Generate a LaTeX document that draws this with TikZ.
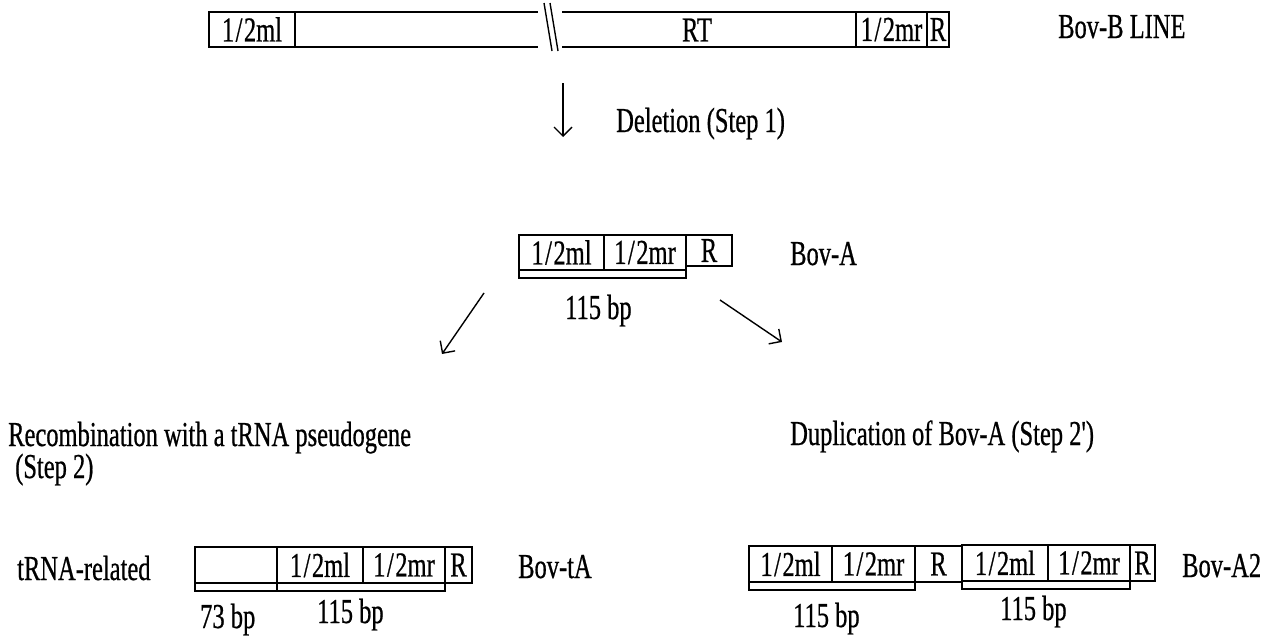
\documentclass[tikz,border=0pt]{standalone}
\usepackage{fontspec}
\newfontfamily\figfont{Liberation Serif}[FakeStretch=0.70,FakeBold=0.6]
\newcommand\halfm{1\kern1.5pt/\kern1.5pt2}
\usetikzlibrary{arrows.meta}
\begin{document}
\begin{tikzpicture}[x=1pt,y=-1pt,
  every node/.style={font=\figfont\fontsize{35}{40}\selectfont},
  seg/.style={draw, line width=1.4pt, inner sep=0pt, outer sep=0pt, anchor=north west},
  bar/.style={draw, line width=1.4pt, inner sep=0pt, outer sep=0pt, anchor=north west, minimum height=8pt},
  lbl/.style={anchor=base west, inner sep=0pt},
  edge/.style={line width=1.4pt},
  arr/.style={line width=1.4pt, -{Straight Barb[length=9pt,width=18pt,line width=1.4pt]}}]
\useasboundingbox (0,0) rectangle (1268,637);
% ---------- Bov-B LINE ----------
\node[seg, minimum width=86pt, minimum height=35pt] (bml) at (209,12) {\halfm ml};
\coordinate (lt) at (538,12); \coordinate (lb) at (538,47);
\draw[edge] (bml.north east) -- (lt);
\draw[edge] (bml.south east) -- (lb);
\coordinate (s1a) at (544,3); \coordinate (s1b) at (552,51);
\coordinate (s2a) at (550,3); \coordinate (s2b) at (558,51);
\draw[edge] (s1a) -- (s1b);
\draw[edge] (s2a) -- (s2b);
\node[seg, minimum width=71pt, minimum height=35pt] (bmr) at (856,12) {\halfm mr};
\node[seg, minimum width=22pt, minimum height=35pt] (bR) at (927,12) {R};
\coordinate (rt) at (562,12); \coordinate (rb) at (562,47);
\draw[edge] (rt) -- (bmr.north west);
\draw[edge] (rb) -- (bmr.south west);
\node (RT) at (697,30) {RT};
\node[lbl] (bovb) at (1058,38) {Bov-B LINE};
% ---------- deletion ----------
\coordinate (d1) at (563,83); \coordinate (d2) at (563,137);
\draw[arr] (d1) -- (d2);
\node[lbl] (del) at (616,132) {Deletion (Step 1)};
% ---------- Bov-A ----------
\node[seg, minimum width=85pt, minimum height=35pt] (aml) at (519,235) {\halfm ml};
\node[seg, minimum width=82pt, minimum height=35pt] (amr) at (604,235) {\halfm mr};
\node[seg, minimum width=46pt, minimum height=31pt] (aR) at (686,235) {R};
\node[bar, minimum width=167pt] (abar) at (519,270) {};
\node[lbl] (bova) at (790,265) {Bov-A};
\node[lbl] (a115) at (565,319) {115 bp};
\coordinate (la1) at (484,293); \coordinate (la2) at (442,354);
\draw[arr] (la1) -- (la2);
\coordinate (ra1) at (720,300); \coordinate (ra2) at (782,342);
\draw[arr] (ra1) -- (ra2);
% ---------- step texts ----------
\node[lbl] (rec) at (8,446) {Recombination with a tRNA pseudogene};
\node[lbl] (rec2) at (15,478) {(Step 2)};
\node[lbl] (dup) at (790,445) {Duplication of Bov-A (Step 2')};
% ---------- Bov-tA ----------
\node[lbl] (trel) at (17,580) {tRNA-related};
\node[seg, minimum width=82pt, minimum height=36pt] (tt) at (195,547) {};
\node[seg, minimum width=86pt, minimum height=36pt] (tml) at (277,547) {\halfm ml};
\node[seg, minimum width=82pt, minimum height=36pt] (tmr) at (363,547) {\halfm mr};
\node[seg, minimum width=27pt, minimum height=36pt] (tR) at (445,547) {R};
\node[bar, minimum width=82pt] (tbar1) at (195,583) {};
\node[bar, minimum width=168pt] (tbar2) at (277,583) {};
\node[lbl] (bovta) at (518,578) {Bov-tA};
\node[lbl] (t73) at (200,628) {73 bp};
\node[lbl] (t115) at (317,623) {115 bp};
% ---------- Bov-A2 ----------
\node[seg, minimum width=83pt, minimum height=36pt] (a2ml) at (749,546) {\halfm ml};
\node[seg, minimum width=83pt, minimum height=36pt] (a2mr) at (832,546) {\halfm mr};
\node[seg, minimum width=47pt, minimum height=36pt] (a2R) at (915,546) {R};
\node[bar, minimum width=166pt] (a2bar1) at (749,582) {};
\node[seg, minimum width=86pt, minimum height=36pt] (b2ml) at (962,545) {\halfm ml};
\node[seg, minimum width=82pt, minimum height=36pt] (b2mr) at (1048,545) {\halfm mr};
\node[seg, minimum width=25pt, minimum height=36pt] (b2R) at (1130,545) {R};
\node[bar, minimum width=168pt] (a2bar2) at (962,581) {};
\node[lbl] (bova2) at (1182,577) {Bov-A2};
\node[lbl] (a2l) at (793,627) {115 bp};
\node[lbl] (a2r) at (1000,620) {115 bp};
\end{tikzpicture}
\end{document}
